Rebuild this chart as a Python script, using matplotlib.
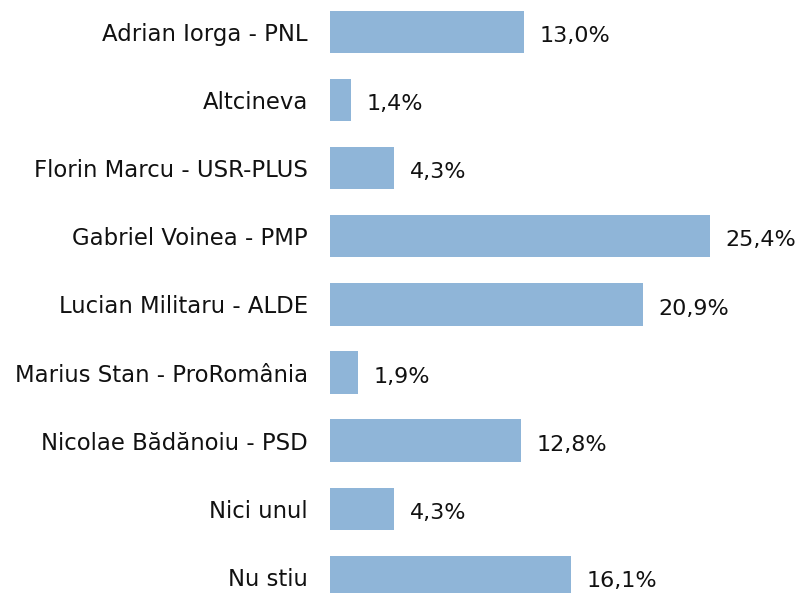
import matplotlib
matplotlib.use("Agg")
import matplotlib.pyplot as plt

# date
candidati = [
    "Adrian Iorga - PNL",
    "Altcineva",
    "Florin Marcu - USR-PLUS",
    "Gabriel Voinea - PMP",
    "Lucian Militaru - ALDE",
    "Marius Stan - ProRomânia",
    "Nicolae Bădănoiu - PSD",
    "Nici unul",
    "Nu stiu",
]
procente = [13.0, 1.4, 4.3, 25.4, 20.9, 1.9, 12.8, 4.3, 16.1]
etichete = [f"{v:.1f}%".replace(".", ",") for v in procente]

plt.rcParams["font.family"] = ["DejaVu Sans"]

fig = plt.figure(figsize=(8.01, 5.93), dpi=100)
ax = fig.add_axes([330 / 801, 0, 471 / 801, 1])

poz = list(range(len(candidati)))
bare = ax.barh(poz, procente, height=0.62, color="#8FB5D8")

ax.set_xlim(0, 471 / 14.96)
ax.set_ylim((593 - 32) / 68.1, -32 / 68.1)
ax.set_yticks(poz)
ax.set_yticklabels(candidati, fontsize=16.4, color="#111111")
ax.tick_params(axis="y", length=0, pad=16)
ax.set_xticks([])
for s in ax.spines.values():
    s.set_visible(False)

for b, txt in zip(bare, etichete):
    ax.annotate(txt, (b.get_width(), b.get_y() + b.get_height() / 2),
                xytext=(11, -3), textcoords="offset points",
                ha="left", va="center", fontsize=16, color="#111111")

fig.savefig("out.png", dpi=100)
